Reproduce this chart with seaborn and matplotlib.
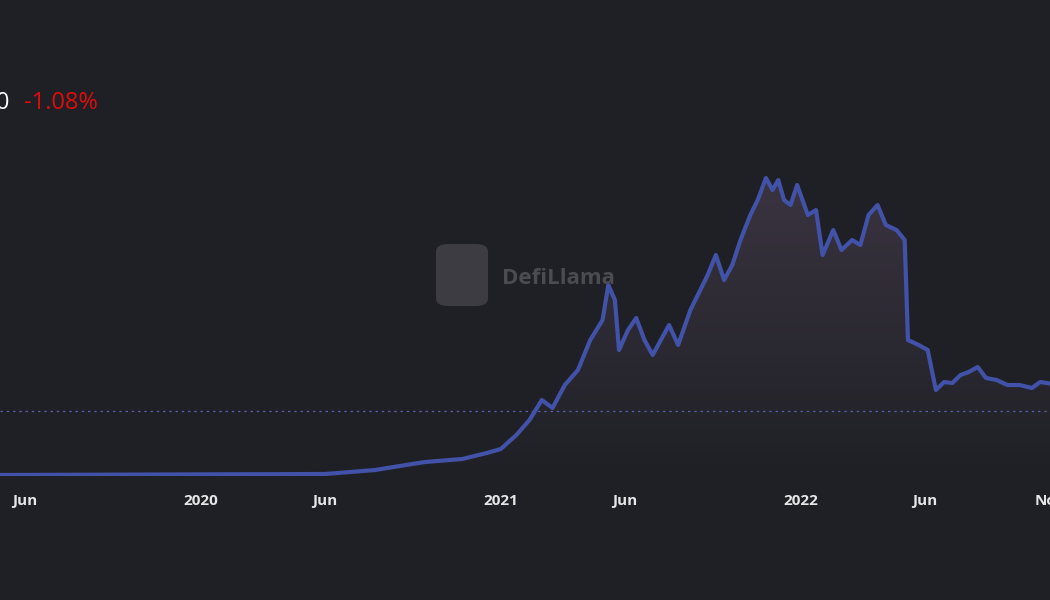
import matplotlib
matplotlib.use("Agg")
import numpy as np
import pandas as pd
import seaborn as sns
import matplotlib.pyplot as plt
import matplotlib.dates as mdates
from matplotlib.patches import Polygon, FancyBboxPatch

dates = ["2019-05-01", "2020-06-01", "2020-08-01", "2020-09-15", "2020-10-01", "2020-11-15",
         "2020-12-15", "2021-01-01", "2021-01-20", "2021-02-05", "2021-02-20", "2021-03-05",
         "2021-03-20", "2021-04-05", "2021-04-20", "2021-05-05", "2021-05-12", "2021-05-20",
         "2021-05-25", "2021-06-05", "2021-06-15", "2021-06-25", "2021-07-05", "2021-07-15",
         "2021-07-25", "2021-08-05", "2021-08-20", "2021-09-01", "2021-09-10", "2021-09-20",
         "2021-09-30", "2021-10-10", "2021-10-20", "2021-11-01", "2021-11-10", "2021-11-20",
         "2021-11-28", "2021-12-05", "2021-12-12", "2021-12-20", "2021-12-28", "2022-01-10",
         "2022-01-20", "2022-01-28", "2022-02-10", "2022-02-20", "2022-03-05", "2022-03-15",
         "2022-03-25", "2022-04-05", "2022-04-15", "2022-04-28", "2022-05-08", "2022-05-12",
         "2022-05-25", "2022-06-05", "2022-06-15", "2022-06-25", "2022-07-05", "2022-07-15",
         "2022-07-25", "2022-08-05", "2022-08-15", "2022-08-28", "2022-09-10", "2022-09-25",
         "2022-10-10", "2022-10-20", "2022-11-05"]
tvl = [1, 2, 6, 12, 14, 17,
       23, 27, 41, 56, 76, 68,
       91, 106, 136, 156, 191, 176,
       126, 146, 158, 136, 121, 136,
       151, 131, 166, 186, 201, 221,
       196, 211, 236, 261, 276, 298,
       286, 296, 276, 271, 291, 261,
       266, 221, 246, 226, 236, 231,
       261, 271, 251, 246, 236, 136,
       131, 126, 86, 94, 93, 101,
       104, 109, 98, 96, 91, 91,
       88, 94, 92]
ref_level = 65
ticks = ["2019-06-01", "2020-01-01", "2020-06-01", "2021-01-01", "2021-06-01",
         "2022-01-01", "2022-06-01", "2022-11-01"]
tick_labels = ["Jun", "2020", "Jun", "2021", "Jun", "2022", "Jun", "Nov"]

bg = "#1f2026"
line_c = "#4152a8"

sns.set_theme(style="dark", rc={"axes.facecolor": bg, "figure.facecolor": bg})
plt.rcParams['font.family'] = ['Open Sans', 'DejaVu Sans']

df = pd.DataFrame({"date": pd.to_datetime(dates), "tvl": tvl})

fig = plt.figure(figsize=(10.5, 6), dpi=100)
ax = fig.add_axes([0, 124 / 600, 1, 320 / 600])
ax.set_facecolor(bg)

x0 = mdates.date2num(pd.Timestamp("2019-05-02"))
x1 = mdates.date2num(pd.Timestamp("2022-10-31"))
ax.set_xlim(x0, x1)
ax.set_ylim(0, 320)

# gradient fill under the line
xn = mdates.date2num(df["date"])
grad = np.linspace(0, 1, 256).reshape(-1, 1)
cmap = matplotlib.colors.LinearSegmentedColormap.from_list("g", [bg, "#3a3440"])
img = ax.imshow(grad, extent=[x0, x1, 0, 300], origin="lower", aspect="auto", cmap=cmap, zorder=1)
poly = Polygon(np.column_stack([np.r_[xn[0], xn, xn[-1]], np.r_[0, df["tvl"], 0]]),
               closed=True, transform=ax.transData, facecolor="none", edgecolor="none")
ax.add_patch(poly)
img.set_clip_path(poly)

sns.lineplot(data=df, x=xn, y="tvl", ax=ax, color=line_c, linewidth=3, zorder=3)
ax.axhline(ref_level, color="#5a5fa8", linestyle=(0, (2, 3)), linewidth=0.9, zorder=2)

ax.set_xticks(mdates.date2num(pd.to_datetime(ticks)))
ax.set_xticklabels(tick_labels, color="#e6e6e6", fontsize=11, fontweight="bold")
ax.tick_params(axis="x", length=0, pad=13)
ax.set_yticks([])
ax.set_xlabel("")
ax.set_ylabel("")
ax.grid(False)
for s in ax.spines.values():
    s.set_visible(False)

fig.text(-0.004, 0.828, "0", color="white", fontsize=17, va="center")
fig.text(0.023, 0.828, "-1.08%", color="#e00b0b", fontsize=17, va="center")

# watermark
fig.patches.append(FancyBboxPatch((436 / 1050, 1 - 306 / 600), 52 / 1050, 62 / 600,
                                  boxstyle="round,pad=0,rounding_size=0.012",
                                  transform=fig.transFigure, facecolor="#3c3c42",
                                  edgecolor="none", zorder=0.5))
fig.text(502 / 1050, 1 - 278 / 600, "DefiLlama", color="#4b4b50",
         fontsize=16, fontweight="bold", ha="left", va="center", zorder=0.5)

fig.savefig("out.png", dpi=100, facecolor=bg)
